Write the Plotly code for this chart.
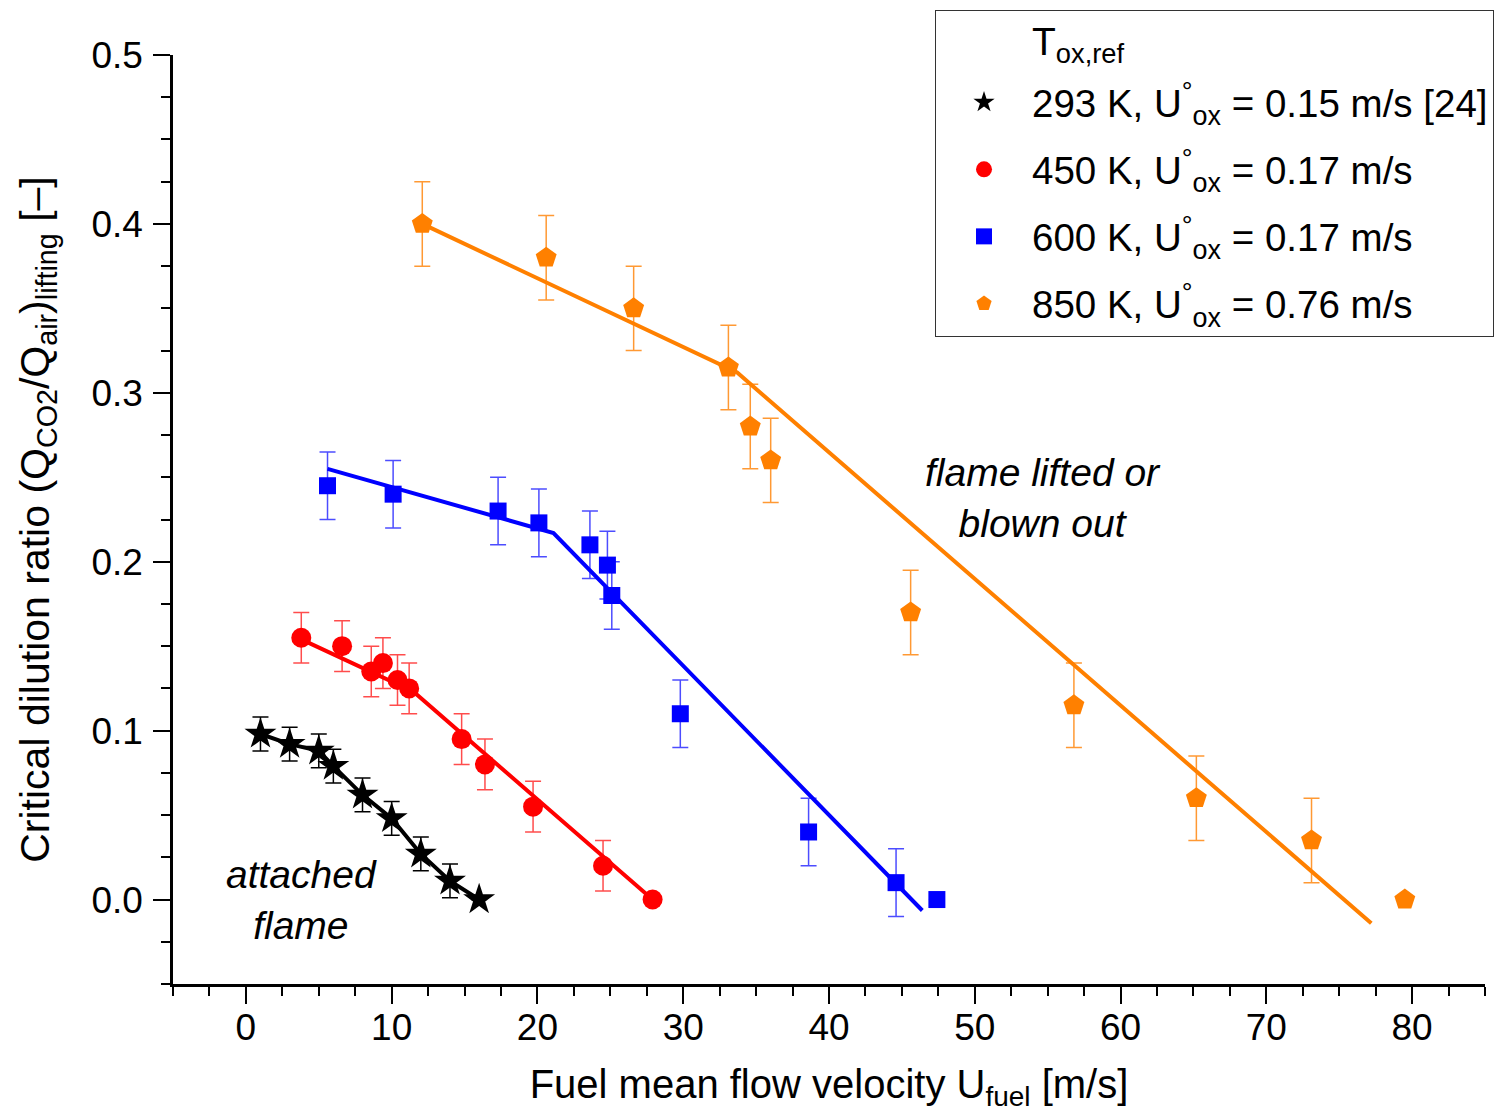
import plotly.graph_objects as go

# ---- data ----
x293 = [1.0, 3.0, 5.0, 6.0, 8.0, 10.0, 12.0, 14.0, 16.0]
y293 = [0.098, 0.092, 0.088, 0.079, 0.062, 0.048, 0.027, 0.011, 0.0]
e293 = [0.01, 0.01, 0.01, 0.01, 0.01, 0.01, 0.01, 0.01, 0.0]

x450 = [3.8, 6.6, 8.6, 9.4, 10.4, 11.2, 14.8, 16.4, 19.7, 24.5, 27.9]
y450 = [0.155, 0.150, 0.135, 0.140, 0.130, 0.125, 0.095, 0.080, 0.055, 0.020, 0.0]
e450 = [0.015] * 10 + [0.0]
fit450_x = [3.8, 11.5, 27.9]
fit450_y = [0.154, 0.123, 0.0]

x600 = [5.6, 10.1, 17.3, 20.1, 23.6, 24.8, 25.1, 29.8, 38.6, 44.6, 47.4]
y600 = [0.245, 0.240, 0.230, 0.223, 0.210, 0.198, 0.180, 0.110, 0.040, 0.010, 0.0]
e600 = [0.02] * 10 + [0.0]
fit600_x = [5.6, 21.1, 46.4]
fit600_y = [0.255, 0.217, -0.0065]

x850 = [12.1, 20.6, 26.6, 33.1, 34.6, 36.0, 45.6, 56.8, 65.2, 73.1, 79.5]
y850 = [0.400, 0.380, 0.350, 0.315, 0.280, 0.260, 0.170, 0.115, 0.060, 0.035, 0.0]
e850 = [0.025] * 10 + [0.0]
fit850_x = [12.1, 33.7, 77.2]
fit850_y = [0.400, 0.312, -0.014]

names = [
    "293 K, U<sup>°</sup><sub>ox</sub> = 0.15 m/s [24]",
    "450 K, U<sup>°</sup><sub>ox</sub> = 0.17 m/s",
    "600 K, U<sup>°</sup><sub>ox</sub> = 0.17 m/s",
    "850 K, U<sup>°</sup><sub>ox</sub> = 0.76 m/s",
]
legend_title = "T<sub>ox,ref</sub>"
colors = ["#000000", "#ff0000", "#0000ff", "#ff8000"]
err_colors = ["#000000", "rgba(255,0,0,0.7)", "rgba(0,0,255,0.7)", "rgba(255,128,0,0.8)"]
symbols = ["star", "circle", "square", "pentagon"]
sizes = [24, 20, 17, 22]

series = [(x293, y293, e293), (x450, y450, e450), (x600, y600, e600), (x850, y850, e850)]
fits = [(x293, y293), (fit450_x, fit450_y), (fit600_x, fit600_y), (fit850_x, fit850_y)]

fig = go.Figure()
for i in range(4):
    fx, fy = fits[i]
    fig.add_trace(go.Scatter(x=fx, y=fy, mode="lines", showlegend=False,
                             line=dict(color=colors[i], width=4), hoverinfo="skip"))
for i in range(4):
    sx, sy, se = series[i]
    fig.add_trace(go.Scatter(
        x=sx, y=sy, mode="markers", name=names[i], legendgroup="g%d" % i,
        marker=dict(symbol=symbols[i], size=sizes[i], color=colors[i], line=dict(width=0)),
        error_y=dict(type="data", array=se, visible=True, color=err_colors[i],
                     thickness=1.5, width=8),
    ))

font_family = "Liberation Sans, Arial, sans-serif"
fig.update_layout(
    width=1496, height=1104,
    paper_bgcolor="white", plot_bgcolor="white",
    margin=dict(l=165, r=19, t=47, b=128, autoexpand=False),
    font=dict(family=font_family, size=37, color="black"),
    xaxis=dict(
        range=[-5, 85], tickvals=[0, 10, 20, 30, 40, 50, 60, 70, 80],
        showgrid=False, zeroline=False, showline=True, linecolor="black", linewidth=2.5,
        ticks="outside", ticklen=17, tickwidth=2, tickcolor="black",
        minor=dict(dtick=2.5, tick0=0, ticks="outside", ticklen=9, tickwidth=2, tickcolor="black"),
        tickfont=dict(size=37), ticklabelstandoff=-8, automargin=False,
        title=dict(text="Fuel mean flow velocity U<sub>fuel</sub> [m/s]", font=dict(size=40), standoff=26),
    ),
    yaxis=dict(
        range=[-0.05, 0.5], tickvals=[0, 0.1, 0.2, 0.3, 0.4, 0.5], tickformat=".1f",
        showgrid=False, zeroline=False, showline=True, linecolor="black", linewidth=2.5,
        ticks="outside", ticklen=17, tickwidth=2, tickcolor="black",
        minor=dict(dtick=0.025, tick0=0, ticks="outside", ticklen=9, tickwidth=2, tickcolor="black"),
        tickfont=dict(size=37), ticklabelstandoff=3, automargin=False,
        title=dict(text="Critical dilution ratio (Q<sub>CO2</sub>/Q<sub>air</sub>)<sub>lifting</sub> [–]",
                   font=dict(size=41), standoff=30),
    ),
    legend=dict(
        x=0.5808, y=1.0485, xanchor="left", yanchor="top",
        bgcolor="white", bordercolor="#333333", borderwidth=1,
        font=dict(size=38.5),
        title=dict(text="&nbsp;", font=dict(size=46)),
        itemwidth=86, tracegroupgap=14,
    ),
    annotations=[
        dict(x=0.653, y=1.0108, xref="paper", yref="paper", xanchor="left", yanchor="middle",
             text=legend_title, showarrow=False, font=dict(size=39)),
        dict(x=54.7, y=0.238, xref="x", yref="y", text="<i>flame lifted or<br>blown out</i>",
             showarrow=False, font=dict(size=39), align="center"),
        dict(x=3.8, y=0.0, xref="x", yref="y", text="<i>attached<br>flame</i>",
             showarrow=False, font=dict(size=39), align="center"),
    ],
)

fig.write_html("out.html")
